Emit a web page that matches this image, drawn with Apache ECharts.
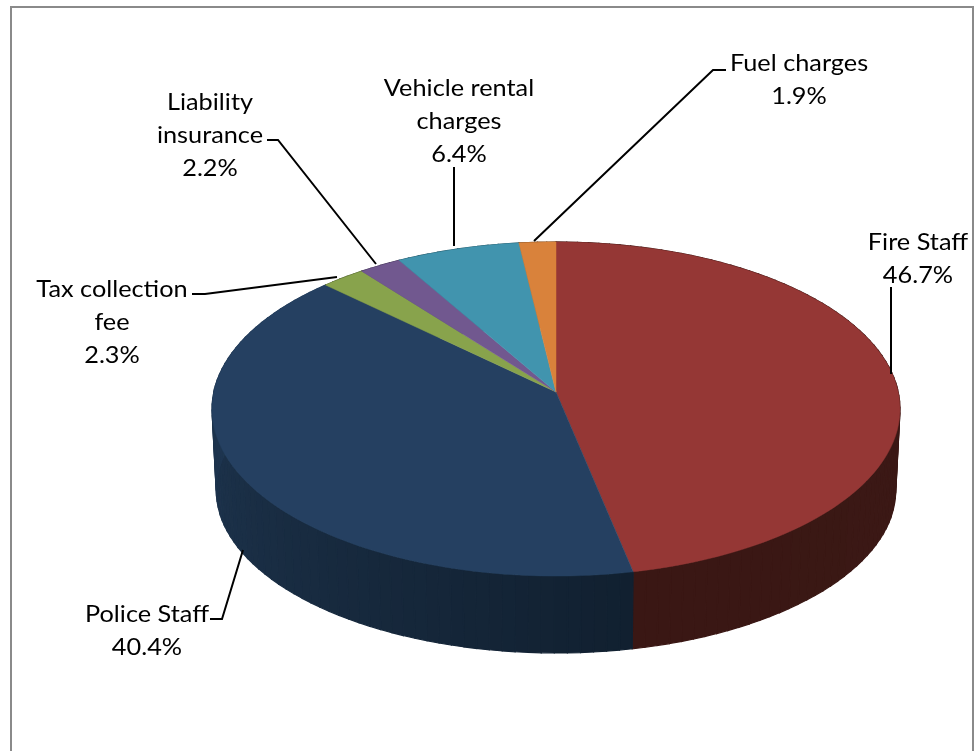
<!DOCTYPE html>
<html>
<head>
<meta charset="utf-8">
<style>
	html, body { margin: 0; padding: 0; background: #fff; }
	#chart { width: 976px; height: 751px; }
</style>
<script src="https://cdn.jsdelivr.net/npm/echarts@6/dist/echarts.min.js"></script>
</head>
<body>
<div id="chart"></div>
<script>
// clockwise from 12 o'clock
var categories = ['Fire Staff', 'Police Staff', 'Tax collection\nfee', 'Liability\ninsurance', 'Vehicle rental\ncharges', 'Fuel charges'];
var percents = [46.7, 40.4, 2.3, 2.2, 6.4, 1.9];

var topColors = ['#953735', '#254061', '#88a34c', '#71588f', '#4194ae', '#d9823b'];
// side wall colour at the start and at the end of each slice
var sideColors = [
	['#3c1a16', '#3a1714'],
	['#112030', '#233d5b'],
	['#4a5a2a', '#4a5a2a'],
	['#3d3050', '#3d3050'],
	['#23505f', '#23505f'],
	['#774720', '#774720']
];

// label block centre, line height is shared
var labelCentres = [[918, 259], [147, 631], [112, 322.5], [210, 135.5], [459, 122], [799, 80]];
var leaderLines = [
	[[891, 287], [891, 374]],
	[[210, 619], [222, 619], [243, 550]],
	[[192, 294], [205, 294], [337, 277]],
	[[267, 140], [278, 140], [376, 264]],
	[[454, 167], [454, 246]],
	[[726, 70], [713, 70], [534, 241]]
];

// perspective discs of the cake: upper face and lower rim
var upperDisc = {cx: 556, y0: 392, a: 165.3, b: 342.2, k: 0.1018};
var lowerDisc = {cx: 556, y0: 473.4, a: 161.3, b: 338, k: 0.1018};
var STEP = 2 * Math.PI / 180;

function project(disc, t) {
	var x = Math.sin(t), z = -Math.cos(t);
	var w = 1 - disc.k * z;
	return [disc.cx + disc.b * x / w, disc.y0 + disc.a * z / w];
}

function sliceAngles(index) {
	var total = 0, before = 0, i;
	for (i = 0; i < percents.length; i++) {
		total += percents[i];
		if (i < index) {
			before += percents[i];
		}
	}
	var start = before / total * 2 * Math.PI;
	return [start, start + percents[index] / total * 2 * Math.PI];
}

function renderSide(params) {
	var i = params.dataIndex;
	var range = sliceAngles(i);
	var n = Math.max(1, Math.ceil((range[1] - range[0]) / STEP));
	var d = (range[1] - range[0]) / n;
	var strips = [];
	for (var s = 0; s < n; s++) {
		var t0 = range[0] + s * d, t1 = t0 + d;
		var color = echarts.color.lerp((s + 0.5) / n, sideColors[i]);
		strips.push({
			type: 'polygon',
			shape: {points: [project(upperDisc, t0), project(upperDisc, t1), project(lowerDisc, t1), project(lowerDisc, t0)]},
			style: {fill: color, stroke: color, lineWidth: 1.2}
		});
	}
	return {type: 'group', children: strips};
}

function renderTop(params) {
	var i = params.dataIndex;
	var range = sliceAngles(i);
	var n = Math.max(2, Math.ceil((range[1] - range[0]) / STEP));
	var points = [[upperDisc.cx, upperDisc.y0]];
	for (var s = 0; s <= n; s++) {
		points.push(project(upperDisc, range[0] + (range[1] - range[0]) * s / n));
	}
	return {
		type: 'polygon',
		shape: {points: points},
		style: {fill: topColors[i], stroke: topColors[i], lineWidth: 0.5}
	};
}

function renderLabel(params, api) {
	var i = params.dataIndex;
	return {
		type: 'group',
		children: [
			{
				type: 'polyline',
				shape: {points: leaderLines[i]},
				style: {fill: 'none', stroke: '#000', lineWidth: 2}
			},
			{
				type: 'text',
				// the reference text is stretched sideways
				scaleX: 1.1,
				originX: labelCentres[i][0],
				originY: labelCentres[i][1],
				style: {
					x: labelCentres[i][0],
					y: labelCentres[i][1],
					text: categories[i] + '\n' + api.value(0).toFixed(1) + '%',
					font: '23px Lato',
					lineHeight: 33,
					fill: '#000',
					align: 'center',
					verticalAlign: 'middle'
				}
			}
		]
	};
}

var myChart = echarts.init(document.getElementById('chart'));
var option = {
	animation: false,
	backgroundColor: '#fff',
	tooltip: {show: false},
	graphic: [{
		// bottom edge of the frame falls outside the picture
		type: 'rect',
		silent: true,
		shape: {x: 11, y: 7, width: 962, height: 780},
		style: {fill: 'none', stroke: '#8a8a8a', lineWidth: 2}
	}],
	series: [
		{type: 'custom', coordinateSystem: 'none', silent: true, z: 2, renderItem: renderSide, data: percents},
		{type: 'custom', coordinateSystem: 'none', silent: true, z: 3, renderItem: renderTop, data: percents},
		{type: 'custom', coordinateSystem: 'none', silent: true, z: 4, renderItem: renderLabel, data: percents}
	]
};
myChart.setOption(option);
</script>
</body>
</html>
